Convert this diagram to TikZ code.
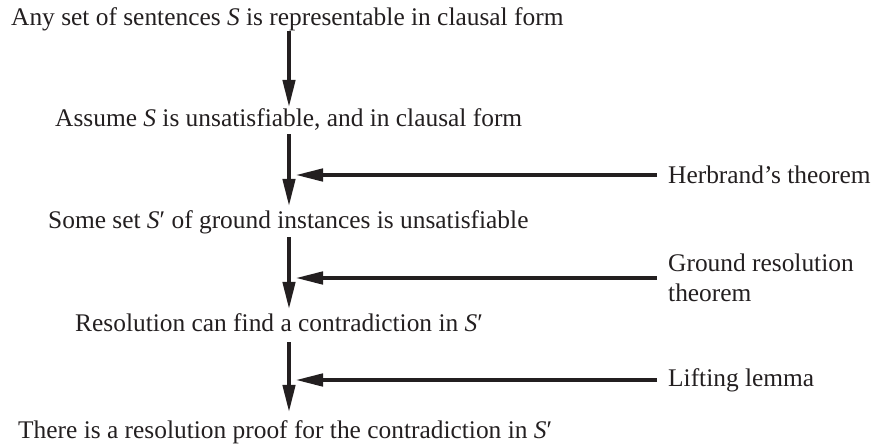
\documentclass[tikz,border=0pt]{standalone}
\usepackage{fontspec}
\setmainfont{Liberation Serif}
\usetikzlibrary{arrows.meta}
\definecolor{ink}{RGB}{35,31,32}
\begin{document}
\begin{tikzpicture}[x=1pt,y=-1pt,
  every node/.style={text=ink},
  txt/.style={font=\fontsize{25.4pt}{30.5pt}\selectfont, inner sep=0pt, anchor=base west, text height=18pt, text depth=6pt},
  lab/.style={font=\fontsize{25.4pt}{30.5pt}\selectfont, inner ysep=0pt, inner xsep=11pt, anchor=west, align=left},
  flow/.style={draw=ink, line width=4.5pt, -{Triangle[length=28pt,width=12pt]}},
]
\useasboundingbox (0,0) rectangle (875,447);
\coordinate (ax) at (289,0);
\coordinate (tip) at (295,0);

\node[txt] (L1) at (11,25) {Any set of sentences \textit{S} is representable in clausal form};
\node[txt] (L2) at (55,126) {Assume \textit{S} is unsatisfiable, and in clausal form};
\node[txt] (L3) at (48,228) {Some set \textit{S}′ of ground instances is unsatisfiable};
\node[txt] (L4) at (75,331) {Resolution can find a contradiction in \textit{S}′};
\node[txt] (L5) at (18,438) {There is a resolution proof for the contradiction in \textit{S}′};

\node[lab] (H1) at (657,175) {Herbrand’s theorem};
\node[lab] (H2) at (657,278) {Ground resolution\\theorem};
\node[lab] (H3) at (657,380) {Lifting lemma};

\draw[flow] (ax |- L1.south) -- (ax |- L2.north);
\draw[flow, shorten <=2pt, shorten >=3pt] (ax |- L2.south) -- (ax |- L3.north);
\draw[flow, shorten <=3pt, shorten >=3pt] (ax |- L3.south) -- (ax |- L4.north);
\draw[flow, shorten <=5pt, shorten >=7pt] (ax |- L4.south) -- (ax |- L5.north);

\draw[flow] (H1.west) -- (tip |- H1.west);
\draw[flow] (H2.west) -- (tip |- H2.west);
\draw[flow] (H3.west) -- (tip |- H3.west);
\end{tikzpicture}
\end{document}
